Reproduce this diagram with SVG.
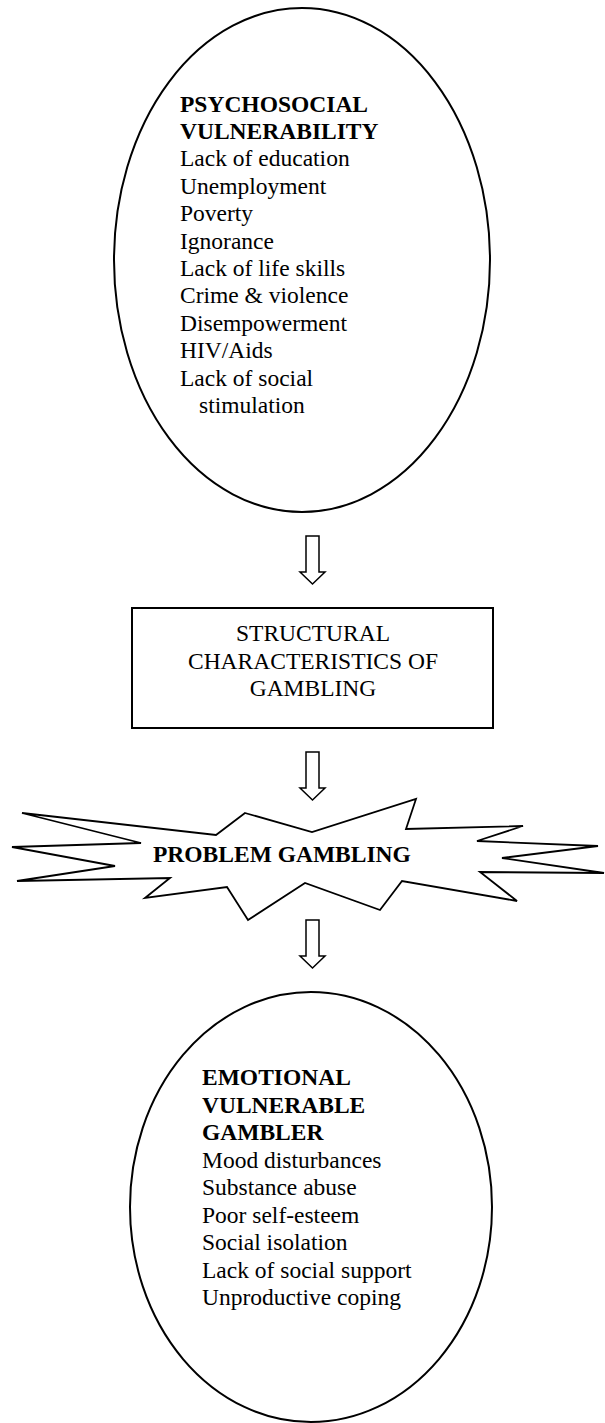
<svg xmlns="http://www.w3.org/2000/svg" width="605" height="1423" viewBox="0 0 605 1423">
  <style>
    .shape { fill: #ffffff; stroke: #000000; stroke-width: 2; }
    .burst { fill: #ffffff; stroke: #000000; stroke-width: 1.8; stroke-linejoin: miter; }
    .arrow { fill: #ffffff; stroke: #000000; stroke-width: 1.5; stroke-linejoin: miter; }
    text { font-family: "Liberation Serif", "Times New Roman", serif; font-size: 23.5px; fill: #000000; }
    .b { font-weight: bold; }
    .c { text-anchor: middle; }
  </style>
  <defs>
    <!-- hollow block arrow pointing down, origin at the centre of the shaft top -->
    <path id="blockArrow" d="M -6.5 0 L 6.5 0 L 6.5 36 L 12.5 36 L 0 48 L -12.5 36 L -6.5 36 Z"/>
  </defs>

  <rect width="605" height="1423" fill="#ffffff"/>

  <!-- top ellipse -->
  <g id="psychosocial">
    <ellipse class="shape" cx="302" cy="260" rx="188" ry="252"/>
    <text x="180" y="111.5" class="b">PSYCHOSOCIAL</text>
    <text x="180" y="139" class="b">VULNERABILITY</text>
    <text x="180" y="166.3">Lack of education</text>
    <text x="180" y="193.7">Unemployment</text>
    <text x="180" y="221.1">Poverty</text>
    <text x="180" y="248.5">Ignorance</text>
    <text x="180" y="275.9">Lack of life skills</text>
    <text x="180" y="303.3">Crime &amp; violence</text>
    <text x="180" y="330.7">Disempowerment</text>
    <text x="180" y="358.1">HIV/Aids</text>
    <text x="180" y="385.5">Lack of social</text>
    <text x="199" y="412.9">stimulation</text>
  </g>

  <!-- rectangle -->
  <g id="structural">
    <rect class="shape" x="132" y="608" width="361" height="120"/>
    <text x="313" y="641" class="c">STRUCTURAL</text>
    <text x="313" y="668.5" class="c">CHARACTERISTICS OF</text>
    <text x="313" y="696" class="c">GAMBLING</text>
  </g>

  <!-- explosion shape -->
  <g id="problem">
    <polygon class="burst" points="245,813 312,832 416,799 406,829 523,826 477,841 598,846 502,858 604,873 480,872 517,901 402,881 380,910 305,883 248,920 227,887 145,898 170,878 17,881 115,866 12,847 141,843 22,813 216,835"/>
    <text x="153" y="862" class="b">PROBLEM GAMBLING</text>
  </g>

  <!-- bottom ellipse -->
  <g id="emotional">
    <ellipse class="shape" cx="311" cy="1207" rx="181" ry="215"/>
    <text x="202" y="1085" class="b">EMOTIONAL</text>
    <text x="202" y="1112.5" class="b">VULNERABLE</text>
    <text x="202" y="1140" class="b">GAMBLER</text>
    <text x="202" y="1167.5">Mood disturbances</text>
    <text x="202" y="1195">Substance abuse</text>
    <text x="202" y="1222.5">Poor self-esteem</text>
    <text x="202" y="1250">Social isolation</text>
    <text x="202" y="1277.5">Lack of social support</text>
    <text x="202" y="1305">Unproductive coping</text>
  </g>

  <!-- connectors -->
  <g id="connectors">
    <use href="#blockArrow" class="arrow" x="312.5" y="536"/>
    <use href="#blockArrow" class="arrow" x="312.5" y="752"/>
    <use href="#blockArrow" class="arrow" x="312.5" y="920"/>
  </g>
</svg>
